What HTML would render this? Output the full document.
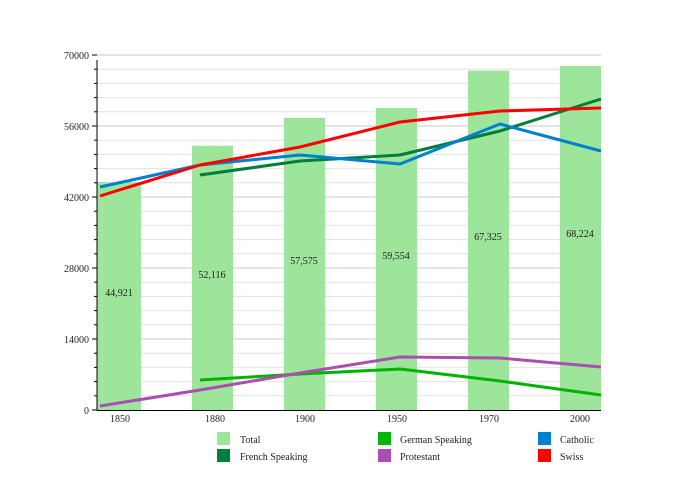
<!DOCTYPE html>
<html><head><style>body{margin:0;background:#fff}svg{display:block}text{font-family:"Liberation Serif",serif;font-size:10px;fill:#222}</style></head><body>
<svg width="700" height="500" viewBox="0 0 700 500">
<g stroke="#e2e2e2" stroke-width="1">
<line x1="97" x2="601" y1="69.2" y2="69.2"/><line x1="97" x2="601" y1="83.4" y2="83.4"/><line x1="97" x2="601" y1="97.6" y2="97.6"/><line x1="97" x2="601" y1="111.8" y2="111.8"/>
<line x1="97" x2="601" y1="140.2" y2="140.2"/><line x1="97" x2="601" y1="154.4" y2="154.4"/><line x1="97" x2="601" y1="168.6" y2="168.6"/><line x1="97" x2="601" y1="182.8" y2="182.8"/>
<line x1="97" x2="601" y1="211.2" y2="211.2"/><line x1="97" x2="601" y1="225.4" y2="225.4"/><line x1="97" x2="601" y1="239.6" y2="239.6"/><line x1="97" x2="601" y1="253.8" y2="253.8"/>
<line x1="97" x2="601" y1="282.2" y2="282.2"/><line x1="97" x2="601" y1="296.4" y2="296.4"/><line x1="97" x2="601" y1="310.6" y2="310.6"/><line x1="97" x2="601" y1="324.8" y2="324.8"/>
<line x1="97" x2="601" y1="353.2" y2="353.2"/><line x1="97" x2="601" y1="367.4" y2="367.4"/><line x1="97" x2="601" y1="381.6" y2="381.6"/><line x1="97" x2="601" y1="395.8" y2="395.8"/>
</g>
<g stroke="#c8c8c8" stroke-width="1">
<line x1="92" x2="601" y1="55" y2="55"/><line x1="92" x2="601" y1="126" y2="126"/><line x1="92" x2="601" y1="197" y2="197"/><line x1="92" x2="601" y1="268" y2="268"/><line x1="92" x2="601" y1="339" y2="339"/>
</g>
<g fill="#9de59a">
<rect x="97" y="182.2" width="44" height="227.8"/>
<rect x="192" y="145.7" width="41" height="264.3"/>
<rect x="284" y="118" width="41" height="292"/>
<rect x="376" y="108" width="41" height="302"/>
<rect x="468" y="70.6" width="41" height="339.4"/>
<rect x="560" y="66" width="41" height="344"/>
</g>
<g text-anchor="middle">
<text x="119" y="296">44,921</text><text x="212" y="278">52,116</text><text x="304" y="264">57,575</text><text x="396" y="259">59,554</text><text x="488" y="240">67,325</text><text x="580" y="237">68,224</text>
</g>
<g fill="none" stroke-width="3" stroke-linejoin="round">
<polyline stroke="#00b400" points="200,380 300,374 400,369 500,381 601,395"/>
<polyline stroke="#aa4faf" points="100,406 200,390 300,373 400,357 500,358 601,367"/>
<polyline stroke="#007f3a" points="200,175 300,161 400,155 500,131 601,99"/>
<polyline stroke="#0080d0" points="100,187 200,165 300,155 400,164 500,124 601,151"/>
<polyline stroke="#ff0000" points="100,196 200,165 300,147 400,122 500,111 601,108"/>
</g>
<g stroke="#000" stroke-width="1">
<line x1="97" x2="97" y1="60" y2="410"/><line x1="97" x2="601" y1="410.5" y2="410.5"/>
<line x1="92" x2="97" y1="410" y2="410"/>
</g>
<g stroke="#000"><line x1="94" x2="97" y1="69.2" y2="69.2"/><line x1="94" x2="97" y1="83.4" y2="83.4"/><line x1="94" x2="97" y1="97.6" y2="97.6"/><line x1="94" x2="97" y1="111.8" y2="111.8"/><line x1="94" x2="97" y1="140.2" y2="140.2"/><line x1="94" x2="97" y1="154.4" y2="154.4"/><line x1="94" x2="97" y1="168.6" y2="168.6"/><line x1="94" x2="97" y1="182.8" y2="182.8"/><line x1="94" x2="97" y1="211.2" y2="211.2"/><line x1="94" x2="97" y1="225.4" y2="225.4"/><line x1="94" x2="97" y1="239.6" y2="239.6"/><line x1="94" x2="97" y1="253.8" y2="253.8"/><line x1="94" x2="97" y1="282.2" y2="282.2"/><line x1="94" x2="97" y1="296.4" y2="296.4"/><line x1="94" x2="97" y1="310.6" y2="310.6"/><line x1="94" x2="97" y1="324.8" y2="324.8"/><line x1="94" x2="97" y1="353.2" y2="353.2"/><line x1="94" x2="97" y1="367.4" y2="367.4"/><line x1="94" x2="97" y1="381.6" y2="381.6"/><line x1="94" x2="97" y1="395.8" y2="395.8"/>
<line x1="92" x2="97" y1="55" y2="55"/><line x1="92" x2="97" y1="126" y2="126"/><line x1="92" x2="97" y1="197" y2="197"/><line x1="92" x2="97" y1="268" y2="268"/><line x1="92" x2="97" y1="339" y2="339"/></g>
<g text-anchor="end">
<text x="89" y="59">70000</text><text x="89" y="130">56000</text><text x="89" y="201">42000</text><text x="89" y="272">28000</text><text x="89" y="343">14000</text><text x="89" y="414">0</text>
</g>
<g text-anchor="middle">
<text x="120" y="422">1850</text><text x="215" y="422">1880</text><text x="305" y="422">1900</text><text x="397" y="422">1950</text><text x="489" y="422">1970</text><text x="580" y="422">2000</text>
</g>
<rect x="217" y="432" width="13" height="13" fill="#9de59a"/><text x="240" y="443">Total</text>
<rect x="217" y="449" width="13" height="13" fill="#007f3a"/><text x="240" y="460">French Speaking</text>
<rect x="378" y="432" width="13" height="13" fill="#00b400"/><text x="400" y="443">German Speaking</text>
<rect x="378" y="449" width="13" height="13" fill="#aa4faf"/><text x="400" y="460">Protestant</text>
<rect x="538" y="432" width="13" height="13" fill="#0080d0"/><text x="560" y="443">Catholic</text>
<rect x="538" y="449" width="13" height="13" fill="#ff0000"/><text x="560" y="460">Swiss</text>
</svg>
</body></html>
